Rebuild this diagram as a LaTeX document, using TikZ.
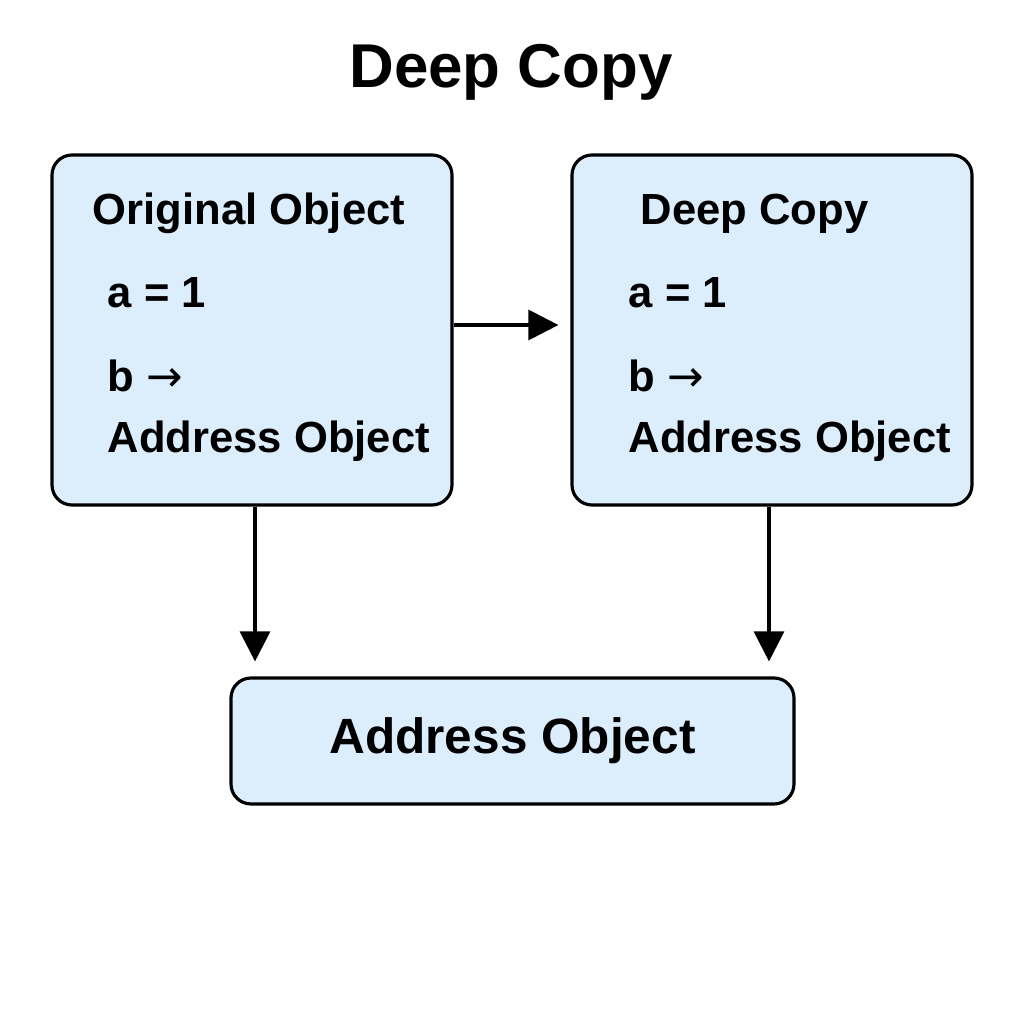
\documentclass[tikz,border=0pt]{standalone}
\usepackage{fontspec}
\setmainfont{Liberation Sans}
\newfontfamily\arrowfont{DejaVu Sans}
\usepackage{xcolor}
\usepackage{tikz}
\usetikzlibrary{positioning,calc,arrows.meta}

\definecolor{boxblue}{RGB}{220,237,252}

\begin{document}
\begin{tikzpicture}[
    objbox/.style={rectangle, rounded corners=0.2cm, draw, line width=0.9pt, fill=boxblue, minimum width=4cm, minimum height=3.5cm},
    addrbox/.style={rectangle, rounded corners=0.2cm, draw, line width=0.9pt, fill=boxblue, minimum width=5.63cm, minimum height=1.26cm, font=\fontsize{14.1}{17}\selectfont\bfseries},
    field/.style={anchor=base west, inner sep=0pt, font=\fontsize{12.4}{15}\selectfont\bfseries},
    arrow/.style={-{Triangle[length=0.3cm,width=0.3cm]}, line width=0.9pt}
]
    \fill[white] (0,0) rectangle (10.24,10.24);
    \useasboundingbox (0,0) rectangle (10.24,10.24);

    \node[anchor=base, inner sep=0pt, font=\fontsize{17.6}{21}\selectfont\bfseries] (title) at (5.11, 9.36) {Deep Copy};

    \node[objbox] (orig) at (2.52, 6.94) {};
    \node[field] (otitle) at (0.92, 7.99) {Original Object};
    \node[field] (oa) at (1.07, 7.16) {a = 1};
    \node[field] (ob) at (1.07, 6.32) {b {\arrowfont\mdseries →}};
    \node[field] (oaddr) at (1.07, 5.71) {Address Object};

    \node[objbox] (copy) at (7.72, 6.94) {};
    \node[field] (ctitle) at (6.40, 7.99) {Deep Copy};
    \node[field] (ca) at (6.28, 7.16) {a = 1};
    \node[field] (cb) at (6.28, 6.32) {b {\arrowfont\mdseries →}};
    \node[field] (caddr) at (6.28, 5.71) {Address Object};

    \node[addrbox] (addr) at (5.125, 2.83) {Address Object};

    \draw[arrow, shorten >=0.12cm] ([yshift=0.05cm]orig.east) -- ([yshift=0.05cm]copy.west);
    \draw[arrow, shorten >=0.15cm] ([xshift=0.03cm]orig.south) -- ([xshift=0.03cm]orig.south |- addr.north);
    \draw[arrow, shorten >=0.15cm] ([xshift=-0.03cm]copy.south) -- ([xshift=-0.03cm]copy.south |- addr.north);
\end{tikzpicture}
\end{document}
